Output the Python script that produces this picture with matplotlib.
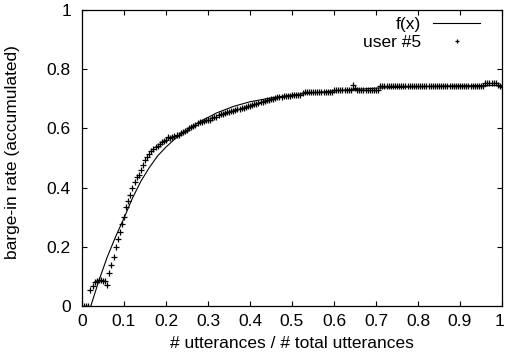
import matplotlib
matplotlib.use("Agg")
import matplotlib.pyplot as plt
import matplotlib.transforms as mtransforms
import numpy as np
from matplotlib.ticker import FuncFormatter

plt.rcParams['font.family'] = ['Liberation Sans', 'DejaVu Sans']

# fitted curve f(x)
fx_x = [0.021, 0.04, 0.06, 0.08, 0.10, 0.12, 0.14, 0.16, 0.18, 0.20, 0.22,
        0.25, 0.28, 0.32, 0.36, 0.40, 0.45, 0.50, 0.60, 0.70, 0.80, 0.90, 1.00]
fx_y = [0.0, 0.085, 0.165, 0.234, 0.297, 0.364, 0.421, 0.467, 0.507, 0.537, 0.563,
        0.594, 0.622, 0.652, 0.674, 0.690, 0.703, 0.713, 0.727, 0.736, 0.741, 0.744, 0.745]

# user #5 accumulated barge-in rate, one value per 0.005 of utterances (0.005 .. 1.000)
user5_step = 0.005
user5_y = [
    0.0, 0.0, 0.0, 0.055, 0.068, 0.08, 0.085, 0.087, 0.087, 0.086,
    0.085, 0.072, 0.11, 0.14, 0.167, 0.20, 0.228, 0.25, 0.277, 0.30,
    0.335, 0.356, 0.375, 0.40, 0.418, 0.435, 0.442, 0.46, 0.478, 0.493,
    0.505, 0.515, 0.524, 0.532, 0.538, 0.542, 0.547, 0.553, 0.557, 0.562,
    0.572, 0.568, 0.570, 0.574, 0.577, 0.578, 0.583, 0.588, 0.592, 0.596,
    0.600, 0.605, 0.608, 0.612, 0.617, 0.620, 0.623, 0.625, 0.627, 0.628,
    0.630, 0.635, 0.638, 0.640, 0.644, 0.647, 0.650, 0.652, 0.655, 0.657,
    0.659, 0.660, 0.662, 0.664, 0.667, 0.669, 0.670, 0.672, 0.674, 0.676,
    0.679, 0.681, 0.684, 0.686, 0.688, 0.690, 0.692, 0.695, 0.697, 0.699,
    0.701, 0.703, 0.705, 0.706, 0.707, 0.708, 0.709, 0.710, 0.711, 0.712,
    0.712, 0.713, 0.713, 0.714, 0.721, 0.722, 0.722, 0.722, 0.722, 0.722,
    0.722, 0.722, 0.722, 0.722, 0.722, 0.722, 0.722, 0.722, 0.722, 0.731,
    0.731, 0.731, 0.731, 0.731, 0.731, 0.731, 0.731, 0.731, 0.745, 0.735,
    0.729, 0.729, 0.729, 0.729, 0.729, 0.729, 0.729, 0.729, 0.729, 0.729,
    0.729, 0.744, 0.744, 0.744, 0.744, 0.744, 0.744, 0.744, 0.744, 0.744,
    0.744, 0.744, 0.744, 0.744, 0.744, 0.744, 0.744, 0.744, 0.744, 0.744,
    0.744, 0.744, 0.744, 0.744, 0.744, 0.744, 0.744, 0.744, 0.744, 0.744,
    0.744, 0.744, 0.744, 0.744, 0.744, 0.744, 0.744, 0.744, 0.744, 0.744,
    0.744, 0.744, 0.744, 0.744, 0.744, 0.744, 0.744, 0.744, 0.744, 0.744,
    0.744, 0.754, 0.754, 0.754, 0.754, 0.754, 0.754, 0.745, 0.742, 0.741,
]
user5_x = [user5_step * (i + 1) for i in range(len(user5_y))]

x_ticks = [0, 0.1, 0.2, 0.3, 0.4, 0.5, 0.6, 0.7, 0.8, 0.9, 1]
y_ticks = [0, 0.2, 0.4, 0.6, 0.8, 1]

FS = 12.5
W, H = 505, 363
fig = plt.figure(figsize=(W / 100, H / 100), dpi=100)
ax = fig.add_axes([82 / W, 57 / H, 420 / W, 296 / H])

ax.plot(fx_x, fx_y, color='black', lw=0.8, label='f(x)')
ax.plot(user5_x, user5_y, linestyle='none', marker='+', markersize=4,
        markeredgewidth=0.9, color='black', label='user #5')

ax.set_xlim(0, 1)
ax.set_ylim(0, 1)
ax.set_xticks(x_ticks)
ax.set_yticks(y_ticks)
fmt = FuncFormatter(lambda v, p: '%g' % v)
ax.xaxis.set_major_formatter(fmt)
ax.yaxis.set_major_formatter(fmt)
ax.tick_params(direction='in', length=3.5, width=0.8, top=True, right=True,
               labelsize=FS, colors='black')
ax.tick_params(axis='x', pad=6)
ax.tick_params(axis='y', pad=8)
for s in ax.spines.values():
    s.set_linewidth(0.9)

# keep the last x tick label ("1") inside the picture edge
fig.canvas.draw()
last = ax.get_xticklabels()[-1]
last.set_transform(last.get_transform() +
                   mtransforms.ScaledTranslation(-3 / 100, 0, fig.dpi_scale_trans))

ax.set_xlabel('# utterances / # total utterances', fontsize=FS, labelpad=5)
ax.set_ylabel('barge-in rate (accumulated)', fontsize=FS)
ax.yaxis.set_label_coords(-0.148, 0.52)

leg = ax.legend(loc='upper right', bbox_to_anchor=(487 / W, 1 - 10 / H),
                bbox_transform=fig.transFigure, frameon=False, markerfirst=False,
                fontsize=FS, handlelength=2.7, handletextpad=0.7,
                labelspacing=0.15, numpoints=1, borderaxespad=0, markerscale=0.7)

fig.savefig('out.png', dpi=100)
